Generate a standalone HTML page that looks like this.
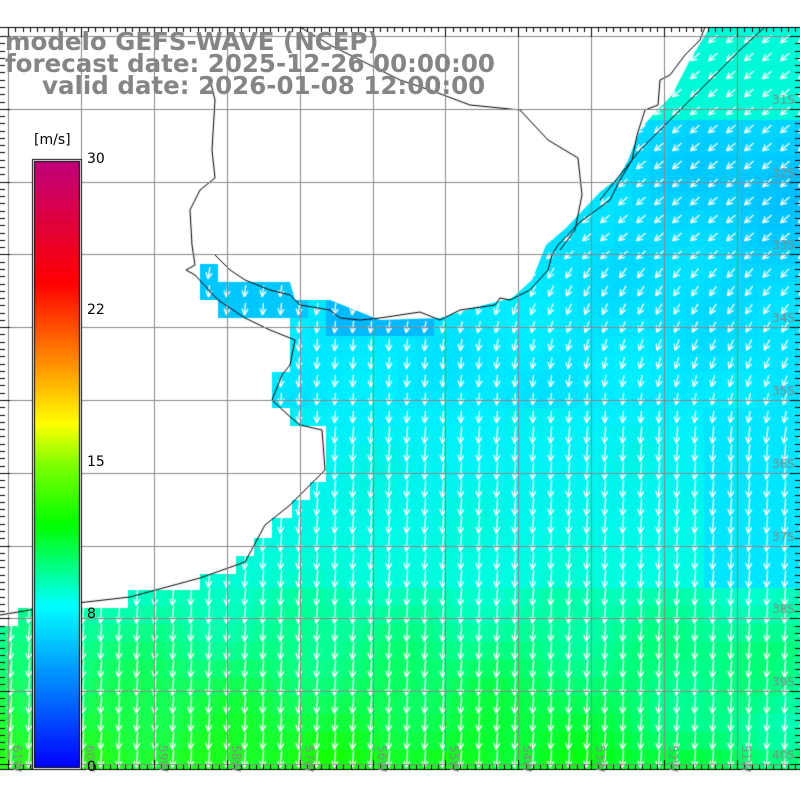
<!DOCTYPE html>
<html><head><style>
html,body{margin:0;padding:0;background:#fff;}
#c{position:absolute;left:0;top:0;}
.t{position:absolute;font-family:"DejaVu Sans","Liberation Sans",sans-serif;font-weight:bold;color:#858585;font-size:24.5px;white-space:pre;line-height:22px;}
.l{position:absolute;font-family:"DejaVu Sans","Liberation Sans",sans-serif;font-size:14px;color:#000;}
</style></head><body>
<canvas id="c" width="800" height="800"></canvas>
<div class="t" style="left:5px;top:31px">modelo GEFS-WAVE (NCEP)</div>
<div class="t" style="left:5px;top:53px">forecast date: 2025-12-26 00:00:00</div>
<div class="t" style="left:42px;top:75px">valid date: 2026-01-08 12:00:00</div>
<div class="l" style="left:34px;top:132px">[m/s]</div>
<div class="l" style="left:87px;top:151px">30</div>
<div class="l" style="left:87px;top:302px">22</div>
<div class="l" style="left:87px;top:454px">15</div>
<div class="l" style="left:87px;top:606px">8</div>
<div class="l" style="left:87px;top:759px">0</div>
<script>
const c=document.getElementById('c'),x=c.getContext('2d');
x.fillStyle='#fff';x.fillRect(0,0,800,800);
const sea=[[710,27],[690,60],[672,95],[650,118],[640,130],[628,160],[618,178],[600,192],[566,228],[546,245],[532,280],[512,298],[480,306],[440,318],[380,320],[330,300],[295,300],[290,282],[218,282],[218,264],[200,264],[200,300],[218,300],[218,318],[290,318],[290,372],[272,372],[272,408],[290,408],[290,426],[326,426],[326,482],[310,482],[310,500],[292,500],[292,518],[272,518],[272,538],[254,538],[254,556],[236,556],[236,574],[200,574],[200,590],[128,590],[128,608],[18,608],[18,626],[0,626],[0,770],[800,770],[800,27]];
function poly(p){x.beginPath();x.moveTo(p[0][0],p[0][1]);for(const q of p)x.lineTo(q[0],q[1]);x.closePath();}
function cl(v){return Math.max(0,Math.min(255,Math.round(v)));}
function col(px,py){
 let r=0,g,b;
 let n=Math.sin(px*0.05+py*0.03)*0.5+Math.sin(px*0.021-py*0.04)*0.5;
 if(py<400){
  let bl=Math.max(0,(px-500)/300)*Math.max(0,1-Math.abs(py-180)/200);
  g=232-bl*40-n*8;b=255;
  if(py<120&&px>640){g=250;b=215;}
  if(py>300&&py<345&&px>330&&px<440){g=185;}
  if(py<320&&px<300){g=200;}
 } else if(py<580){
  let f=(py-400)/180;
  g=238+f*14;b=255-f*30-Math.max(0,n)*15-Math.max(0,(500-px))/20*f;
  if(px>700){g=230;b=255;}
 } else {
  let f=Math.min(1,(py-580)/180);
  g=255;b=200-f*170-n*25;r=Math.max(0,f*40*(1-px/700));
  let rt=Math.max(0,(px-560)/240)*Math.max(0,1-Math.abs(py-730)/80);
  b+=rt*120;r*=(1-rt);
 }
 return `rgb(${cl(r)},${cl(g)},${cl(b)})`;
}
x.save();poly(sea);x.clip();
for(let cx=-16;cx<800;cx+=18)for(let cy=12;cy<780;cy+=18){x.fillStyle=col(cx+9,cy+9);x.fillRect(cx,cy,18,18);}
x.strokeStyle='#fff';x.lineWidth=1.3;
for(let cx=-16;cx<800;cx+=18)for(let cy=12;cy<780;cy+=18){
 let mx=cx+9,my=cy+9;
 let t=Math.max(0,Math.min(1,(my-250)/250+(800-mx)/900));
 if(my<260&&mx>500)t=0;
 let a=Math.PI*(0.75-0.25*Math.min(1,t*1.2))+0.08;
 let L=my>430?17:12;
 let dx=Math.cos(a),dy=Math.sin(a);
 let sx=mx-dx*L/2,sy=my-dy*L/2,ex=mx+dx*L/2,ey=my+dy*L/2;
 x.beginPath();x.moveTo(sx,sy);x.lineTo(ex,ey);
 for(const s of[-1,1]){let b=a+Math.PI+s*0.45;x.moveTo(ex,ey);x.lineTo(ex+Math.cos(b)*7,ey+Math.sin(b)*7);}
 x.stroke();
}
x.restore();
x.strokeStyle='#000';x.lineWidth=1;
function pl(p){x.beginPath();p.forEach((q,i)=>i?x.lineTo(q[0],q[1]):x.moveTo(q[0],q[1]));x.stroke();}
pl([[0,615],[60,605],[130,597],[200,578],[245,562],[265,525],[290,505],[310,485],[325,470],[322,430],[300,425],[288,415],[272,400],[282,375],[290,365],[295,340],[270,330],[245,318],[218,300],[195,275],[186,270],[195,265],[192,245],[190,210],[200,190],[215,178],[212,150],[215,100],[210,80]]);
pl([[215,255],[230,270],[245,280],[270,290],[290,295],[300,305],[330,310],[340,318],[360,320],[380,318],[400,315],[420,312],[440,320],[460,310],[495,305],[500,298],[510,300],[530,290],[548,270],[552,255],[558,245],[580,222],[610,200],[620,180],[632,160],[637,135],[645,110],[658,105],[660,80],[670,75],[685,55],[700,40],[705,27]]);
pl([[600,200],[640,150],[700,90],[740,50],[765,27]]);
pl([[560,250],[575,230],[582,195],[578,158],[548,140],[520,110],[470,105],[430,90],[400,80],[360,60],[330,45],[300,27]]);
x.strokeStyle='#888';x.lineWidth=1;
for(let gx=8;gx<800;gx+=72.9){x.beginPath();x.moveTo(Math.round(gx)+.5,27);x.lineTo(Math.round(gx)+.5,770);x.stroke();}
for(let gy=36;gy<770;gy+=72.8){x.beginPath();x.moveTo(0,Math.round(gy)+.5);x.lineTo(800,Math.round(gy)+.5);x.stroke();}
x.strokeStyle='#000';x.lineWidth=1;
x.beginPath();x.moveTo(0,27.5);x.lineTo(800,27.5);x.moveTo(0,769.5);x.lineTo(800,769.5);x.stroke();
for(let i=0;i<=110;i++){let px=Math.round(8+i*7.29)+.5;let L=i%10==0?10:5;
 x.beginPath();x.moveTo(px,27);x.lineTo(px,27+L);x.moveTo(px,770);x.lineTo(px,770-L);x.stroke();}
for(let i=0;i<=110;i++){let py=Math.round(36+i*7.28)+.5;if(py>770)break;let L=i%10==0?10:5;
 x.beginPath();x.moveTo(0,py);x.lineTo(L,py);x.moveTo(800,py);x.lineTo(800-L,py);x.stroke();}
x.fillStyle='#888';x.font='12px "DejaVu Sans",sans-serif';
const lat=['31S','32S','33S','34S','35S','36S','37S','38S','39S','40S'];
for(let i=0;i<10;i++){x.fillText(lat[i],772,36+i*72.8+72.8-5);}
const lon=['61W','60W','59W','58W','57W','56W','55W','54W','53W','52W','51W'];
for(let i=0;i<11;i++){x.save();x.translate(8+i*72.9+5,745);x.rotate(Math.PI/2);x.fillText(lon[i],0,0);x.restore();}
x.fillStyle='#000';x.fillRect(32,159,50,611);x.fillStyle='#fff';x.fillRect(33,160,48,609);
const g=x.createLinearGradient(0,767,0,162);
[[0,'#0000ff'],[8/30,'#00ffff'],[12/30,'#00ff00'],[15/30,'#80ff00'],[17/30,'#ffff00'],[20/30,'#ff9000'],[24/30,'#ff0000'],[1,'#c0007a']].forEach(s=>g.addColorStop(s[0],s[1]));
x.fillStyle='#000';x.fillRect(34,161,46,607);x.fillStyle=g;x.fillRect(35,162,44,605);
</script>
</body></html>
